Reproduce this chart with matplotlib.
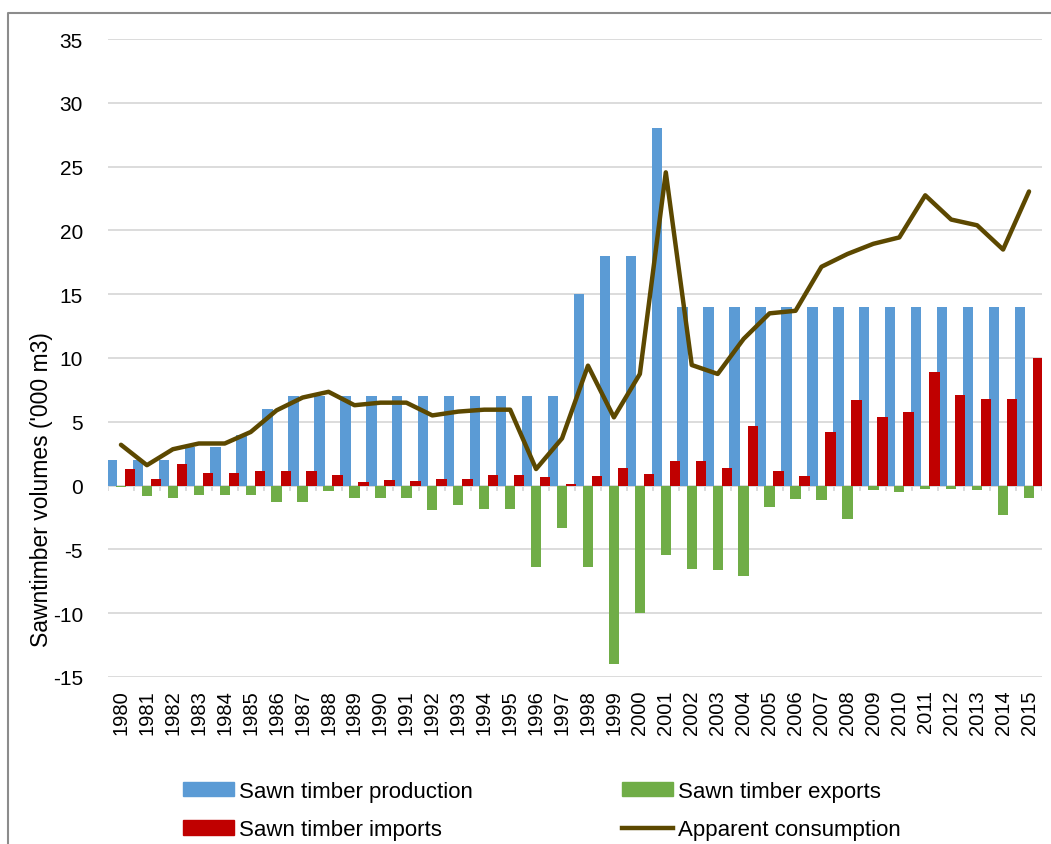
import numpy as np
import matplotlib
matplotlib.use('Agg')
import matplotlib.pyplot as plt
from matplotlib.lines import Line2D
from matplotlib.patches import Patch

plt.rcParams['font.family'] = ['Liberation Sans', 'DejaVu Sans']
plt.rcParams['axes.unicode_minus'] = False

years = list(range(1980, 2016))

# '000 m3
production = [2, 2, 2, 3, 3, 4, 6, 7, 7, 7, 7, 7, 7, 7, 7, 7, 7, 7,
              15, 18, 18, 28,
              14, 14, 14, 14, 14, 14, 14, 14, 14, 14, 14, 14, 14, 14]
exports = [-0.1, -0.8, -0.95, -0.75, -0.75, -0.75, -1.25, -1.3, -0.4, -0.95,
           -0.95, -0.95, -1.9, -1.55, -1.8, -1.8, -6.4, -3.3,
           -6.4, -14.0, -10.0, -5.45, -6.5, -6.6, -7.1, -1.65, -1.05, -1.15,
           -2.6, -0.35, -0.5, -0.25, -0.25, -0.35, -2.3, -0.95]
imports = [1.3, 0.5, 1.7, 1.0, 1.0, 1.15, 1.15, 1.15, 0.8, 0.3, 0.4, 0.35,
           0.5, 0.5, 0.8, 0.8, 0.65, 0.1,
           0.75, 1.35, 0.9, 1.95, 1.95, 1.35, 4.7, 1.15, 0.75, 4.2, 6.7, 5.35,
           5.8, 8.9, 7.1, 6.8, 6.8, 10.0]
consumption = [3.2, 1.6, 2.85, 3.3, 3.3, 4.2, 5.9, 6.9, 7.35, 6.3, 6.5, 6.5,
               5.5, 5.8, 5.95, 5.95, 1.3, 3.7, 9.4, 5.35, 8.75, 24.55, 9.45,
               8.75, 11.5, 13.5, 13.7, 17.15, 18.15, 18.95, 19.45, 22.75,
               20.85, 20.4, 18.5, 23.05]

c_prod = '#5B9BD5'
c_exp = '#70AD47'
c_imp = '#C00000'
c_cons = '#5C4800'
grid_c = '#D9D9D9'

W, H = 1051, 845
fig = plt.figure(figsize=(W / 100, H / 100), dpi=100)
ax = fig.add_axes([108 / W, 1 - 678 / H, 934 / W, 638 / H])

x = np.arange(len(years))
bw = 0.4
ax.bar(x - 0.35, production, bw, color=c_prod, zorder=2)
ax.bar(x, exports, bw, color=c_exp, zorder=3)
ax.bar(x + 0.35, imports, bw, color=c_imp, zorder=4)
ax.plot(x, consumption, color=c_cons, lw=3.2, solid_joinstyle='round',
        solid_capstyle='round', zorder=5)

ax.set_xlim(-0.5, len(years) - 0.5)
ax.set_ylim(-15, 35)
ax.set_yticks(np.arange(-15, 36, 5))
ax.yaxis.grid(True, color=grid_c, lw=1.3)
ax.set_axisbelow(True)
for s in ax.spines.values():
    s.set_visible(False)

# category axis along zero with small ticks between years
ax.axhline(0, color=grid_c, lw=1.3, zorder=1)
ax.vlines(np.arange(-0.5, len(years)), -0.4, 0, color=grid_c, lw=1.3, zorder=1)

ax.set_xticks(x)
ax.set_xticklabels([str(y) for y in years], rotation=90, fontsize=14.5)
ax.tick_params(axis='x', length=0, pad=9)
ax.tick_params(axis='y', length=0, pad=18, labelsize=15)

fig.text(42 / W, 1 - 490 / H, "Sawntimber volumes ('000 m3)", rotation=90,
         ha='center', va='center', fontsize=16.5)

# legend, two columns
kw = dict(frameon=False, fontsize=16, loc='upper left', borderpad=0,
          borderaxespad=0, handlelength=2.3, handleheight=0.6,
          handletextpad=0.2, labelspacing=0.78)
leg1 = fig.legend(handles=[Patch(color=c_prod, label='Sawn timber production'),
                           Patch(color=c_imp, label='Sawn timber imports')],
                  bbox_to_anchor=(183 / W, 1 - 782 / H), **kw)
leg2 = fig.legend(handles=[Patch(color=c_exp, label='Sawn timber exports'),
                           Line2D([], [], color=c_cons, lw=3.2, label='Apparent consumption')],
                  bbox_to_anchor=(622 / W, 1 - 782 / H), **kw)

# outer frame, left and top edges
fig.add_artist(Line2D([8 / W, 8 / W, 1], [0, 1 - 14 / H, 1 - 14 / H],
                      transform=fig.transFigure, color='#8C8C8C', lw=1.5))

fig.savefig('out.png', dpi=100)
